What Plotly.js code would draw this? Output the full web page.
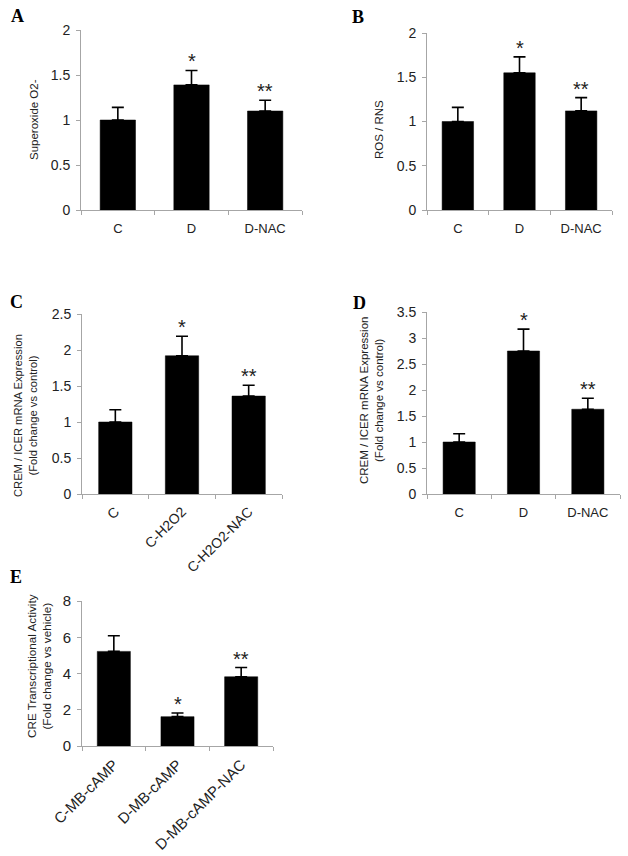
<!DOCTYPE html>
<html>
<head>
<meta charset="utf-8">
<script src="https://cdn.plot.ly/plotly-3.0.1.min.js"></script>
<style>html,body{margin:0;padding:0;background:#fff}#chart{width:628px;height:856px}</style>
</head>
<body>
<div id="chart"></div>
<script>
// ---- data ----
const catsA = ['C', 'D', 'D-NAC'];
const valsA = [1.0, 1.39, 1.10];
const errA  = [0.14, 0.16, 0.12];
const sigA  = ['', '*', '**'];
const titleA = 'Superoxide O2-';
const ticksA = [0, 0.5, 1, 1.5, 2];

const catsB = ['C', 'D', 'D-NAC'];
const valsB = [1.0, 1.55, 1.12];
const errB  = [0.16, 0.18, 0.15];
const sigB  = ['', '*', '**'];
const titleB = 'ROS / RNS';
const ticksB = [0, 0.5, 1, 1.5, 2];

const catsC = ['C', 'C-H2O2', 'C-H2O2-NAC'];
const valsC = [1.0, 1.92, 1.36];
const errC  = [0.17, 0.27, 0.15];
const sigC  = ['', '*', '**'];
const titleC = 'CREM / ICER mRNA Expression<br>(Fold change vs control)';
const ticksC = [0, 0.5, 1, 1.5, 2, 2.5];

const catsD = ['C', 'D', 'D-NAC'];
const valsD = [1.0, 2.75, 1.63];
const errD  = [0.16, 0.42, 0.21];
const sigD  = ['', '*', '**'];
const titleD = 'CREM / ICER mRNA Expression<br>(Fold change vs control)';
const ticksD = [0, 0.5, 1, 1.5, 2, 2.5, 3, 3.5];

const catsE = ['C-MB-cAMP', 'D-MB-cAMP', 'D-MB-cAMP-NAC'];
const valsE = [5.22, 1.62, 3.82];
const errE  = [0.86, 0.20, 0.51];
const sigE  = ['', '*', '**'];
const titleE = 'CRE Transcriptional Activity<br>(Fold change vs vehicle)';
const ticksE = [0, 2, 4, 6, 8];

const letters = ['A', 'B', 'C', 'D', 'E'];

// ---- layout config (pixels) ----
const W = 628, H = 856;
const panels = [
  {cats: catsA, vals: valsA, err: errA, sig: sigA, title: titleA, ticks: ticksA, ymax: 2,
   L: 81, R: 302, T: 30, B: 210, bw: 0.48, angle: 0, titleX: 34, titleY: 120, letterX: 17, letterY: 16, tsize: 11.5, ysize: 14, xsize: 13},
  {cats: catsB, vals: valsB, err: errB, sig: sigB, title: titleB, ticks: ticksB, ymax: 2,
   L: 427, R: 612, T: 33, B: 210, bw: 0.51, angle: 0, titleX: 379, titleY: 130, letterX: 358, letterY: 17, tsize: 11.5, ysize: 14, xsize: 13},
  {cats: catsC, vals: valsC, err: errC, sig: sigC, title: titleC, ticks: ticksC, ymax: 2.5,
   L: 82, R: 282, T: 314, B: 494, bw: 0.5, angle: -45, titleX: 25, titleY: 416, letterX: 16, letterY: 302, tsize: 11.2, ysize: 14, xsize: 14},
  {cats: catsD, vals: valsD, err: errD, sig: sigD, title: titleD, ticks: ticksD, ymax: 3.5,
   L: 427, R: 620, T: 312, B: 494, bw: 0.5, angle: 0, titleX: 371, titleY: 401, letterX: 359, letterY: 303, tsize: 11.5, ysize: 14, xsize: 13},
  {cats: catsE, vals: valsE, err: errE, sig: sigE, title: titleE, ticks: ticksE, ymax: 8,
   L: 82, R: 273, T: 601, B: 746, bw: 0.52, angle: -45, titleX: 39, titleY: 666, letterX: 16, letterY: 577, tsize: 11.7, ysize: 15, xsize: 15}
];

const font = 'Liberation Sans, Arial, sans-serif';
const axisColor = '#a6a6a6';
const traces = [];
const annotations = [];
const layout = {
  width: W, height: H,
  margin: {l: 0, r: 0, t: 0, b: 0},
  paper_bgcolor: '#fff', plot_bgcolor: '#fff',
  showlegend: false,
  font: {family: font, color: '#222'},
  annotations: annotations
};

panels.forEach((p, i) => {
  const n = i + 1;
  const xa = n === 1 ? 'x' : 'x' + n;
  const ya = n === 1 ? 'y' : 'y' + n;
  traces.push({
    type: 'bar', x: p.cats, y: p.vals, xaxis: xa, yaxis: ya,
    width: p.bw,
    marker: {color: '#000', line: {color: '#000', width: 0.5}},
    error_y: {type: 'data', symmetric: false, array: p.err, arrayminus: p.err.map(() => 0),
              color: '#000', thickness: 1.6, width: 6},
    hoverinfo: 'x+y'
  });
  layout['xaxis' + (n === 1 ? '' : n)] = {
    domain: [p.L / W, p.R / W], anchor: ya,
    type: 'category', range: [-0.5, 2.5],
    showline: true, linecolor: axisColor, linewidth: 1,
    ticks: 'outside', tickson: 'boundaries', ticklen: 4, tickcolor: axisColor, tickwidth: 1,
    showgrid: false, zeroline: false,
    tickangle: p.angle,
    ticklabelstandoff: p.angle === 0 ? 6 : 3,
    tickfont: {family: font, size: p.xsize, color: '#222'},
    fixedrange: true
  };
  layout['yaxis' + (n === 1 ? '' : n)] = {
    domain: [1 - p.B / H, 1 - p.T / H], anchor: xa,
    range: [0, p.ymax],
    tickvals: p.ticks, ticktext: p.ticks.map(String),
    showline: true, linecolor: axisColor, linewidth: 1,
    ticks: 'outside', ticklen: 4, tickcolor: axisColor, tickwidth: 1,
    ticklabelstandoff: 3,
    showgrid: false, zeroline: false,
    tickfont: {family: font, size: p.ysize, color: '#222'},
    fixedrange: true
  };
  // y title
  annotations.push({
    xref: 'paper', yref: 'paper', x: p.titleX / W, y: 1 - p.titleY / H,
    xanchor: 'center', yanchor: 'middle', textangle: -90,
    text: p.title, showarrow: false,
    font: {family: font, size: p.tsize, color: '#222'}
  });
  // panel letter
  annotations.push({
    xref: 'paper', yref: 'paper', x: p.letterX / W, y: 1 - p.letterY / H,
    xanchor: 'center', yanchor: 'middle',
    text: '<b>' + letters[i] + '</b>', showarrow: false,
    font: {family: 'Liberation Serif, Times New Roman, serif', size: 18, color: '#000'}
  });
  // significance marks
  p.cats.forEach((c, k) => {
    if (!p.sig[k]) return;
    annotations.push({
      xref: xa, yref: ya, x: c, y: p.vals[k] + p.err[k],
      xanchor: 'center', yanchor: 'bottom', yshift: -4,
      text: p.sig[k], showarrow: false,
      font: {family: font, size: 20, color: '#222'}
    });
  });
});

Plotly.newPlot('chart', traces, layout, {displayModeBar: false, staticPlot: true});
</script>
</body>
</html>
